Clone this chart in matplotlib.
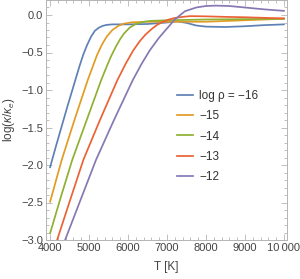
import matplotlib
matplotlib.use('Agg')
import matplotlib.pyplot as plt
from matplotlib.ticker import MultipleLocator, FixedLocator, FixedFormatter

plt.rcParams['font.family'] = ['Liberation Sans', 'DejaVu Sans']
plt.rcParams['mathtext.fontset'] = 'custom'
plt.rcParams['mathtext.it'] = 'Liberation Sans:italic'
plt.rcParams['mathtext.rm'] = 'Liberation Sans'

T_m16 = [4000, 4150, 4300, 4450, 4600, 4750, 4850, 4950, 5050, 5150, 5250, 5350, 5450, 5600,
         6000, 6500, 7000, 7250, 7500, 7750, 8000, 8500, 9000, 9500, 10000]
k_m16 = [-2.03, -1.75, -1.48, -1.21, -0.95, -0.69, -0.53, -0.40, -0.29, -0.21, -0.17, -0.145, -0.132, -0.125,
         -0.125, -0.12, -0.10, -0.085, -0.105, -0.14, -0.155, -0.16, -0.15, -0.135, -0.125]

T_m15 = [4000, 4300, 4625, 4965, 5100, 5200, 5325, 5450, 5600, 5750, 5900, 6100, 6500,
         7000, 7500, 8000, 8500, 9000, 9500, 10000]
k_m15 = [-2.49, -1.93, -1.40, -0.87, -0.68, -0.54, -0.40, -0.29, -0.20, -0.145, -0.115, -0.097, -0.09,
         -0.09, -0.09, -0.09, -0.08, -0.07, -0.06, -0.05]

T_m14 = [4000, 4280, 4570, 4940, 5310, 5450, 5565, 5690, 5800, 5900, 6050, 6200, 6400, 6600,
         7000, 7500, 8000, 9000, 10000]
k_m14 = [-2.91, -2.42, -1.93, -1.40, -0.87, -0.69, -0.55, -0.42, -0.32, -0.245, -0.165, -0.12, -0.09, -0.078,
         -0.07, -0.065, -0.06, -0.055, -0.05]

T_m13 = [4000, 4180, 4500, 4855, 5280, 5725, 5950, 6137, 6300, 6450, 6600, 6750, 6900, 7050, 7200,
         7400, 7600, 8000, 8500, 9000, 9500, 10000]
k_m13 = [-3.28, -3.0, -2.49, -1.93, -1.40, -0.87, -0.64, -0.47, -0.35, -0.26, -0.19, -0.13, -0.09, -0.06, -0.04,
         -0.025, -0.015, -0.018, -0.025, -0.03, -0.038, -0.045]

T_m12 = [4000, 4385, 4800, 5180, 5640, 6120, 6350, 6560, 6800, 7000, 7200, 7460, 7750, 8000,
         8250, 8600, 9000, 9500, 10000]
k_m12 = [-3.52, -3.0, -2.44, -1.93, -1.40, -0.87, -0.65, -0.47, -0.30, -0.18, -0.06, 0.05, 0.10, 0.12,
         0.125, 0.12, 0.10, 0.075, 0.055]

labels = ['log ρ = −16', '−15', '−14', '−13', '−12']
colors = ['#5e81b5', '#e19c24', '#8fb032', '#eb6235', '#8778b3']

xticks = [4000, 5000, 6000, 7000, 8000, 9000, 10000]
xticklabels = ['4000', '5000', '6000', '7000', '8000', '9000', '10\u2009000']
yticks = [0.0, -0.5, -1.0, -1.5, -2.0, -2.5, -3.0]
yticklabels = ['0.0', '−0.5', '−1.0', '−1.5', '−2.0', '−2.5', '−3.0']

fig = plt.figure(figsize=(3.0, 2.79), dpi=100)
ax = fig.add_axes([46 / 300, 39 / 279, 241 / 300, 240 / 279])

series = [(T_m16, k_m16), (T_m15, k_m15), (T_m14, k_m14), (T_m13, k_m13), (T_m12, k_m12)]
for (t, k), lab, c in zip(series, labels, colors):
    ax.plot(t, k, color=c, lw=1.25, label=lab)

ax.set_xlim(3895, 10080)
ax.set_ylim(-3.0, 0.2)

ax.xaxis.set_major_locator(FixedLocator(xticks))
ax.xaxis.set_major_formatter(FixedFormatter(xticklabels))
ax.yaxis.set_major_locator(FixedLocator(yticks))
ax.yaxis.set_major_formatter(FixedFormatter(yticklabels))
ax.xaxis.set_minor_locator(MultipleLocator(200))
ax.yaxis.set_minor_locator(MultipleLocator(0.1))

frame = '#b4b4b4'
for s in ax.spines.values():
    s.set_color(frame)
    s.set_linewidth(0.7)
ax.tick_params(which='both', direction='in', top=True, right=True, color=frame,
               labelsize=8, labelcolor='#444444', width=0.6, pad=2)
ax.tick_params(which='major', length=4)
ax.tick_params(which='minor', length=2)

ax.set_xlabel('T [K]', fontsize=8.5, color='#444444', labelpad=6)
ax.set_ylabel(r'log($\kappa/\kappa_e$)', fontsize=8.5, color='#444444', labelpad=3)

leg = ax.legend(loc='upper left', bbox_to_anchor=(0.544, 0.625), frameon=False,
                fontsize=8.5, handlelength=1.36, handletextpad=0.5, labelspacing=0.7,
                borderpad=0, borderaxespad=0)
for txt in leg.get_texts():
    txt.set_color('#333333')

fig.savefig('out.png', dpi=100)
